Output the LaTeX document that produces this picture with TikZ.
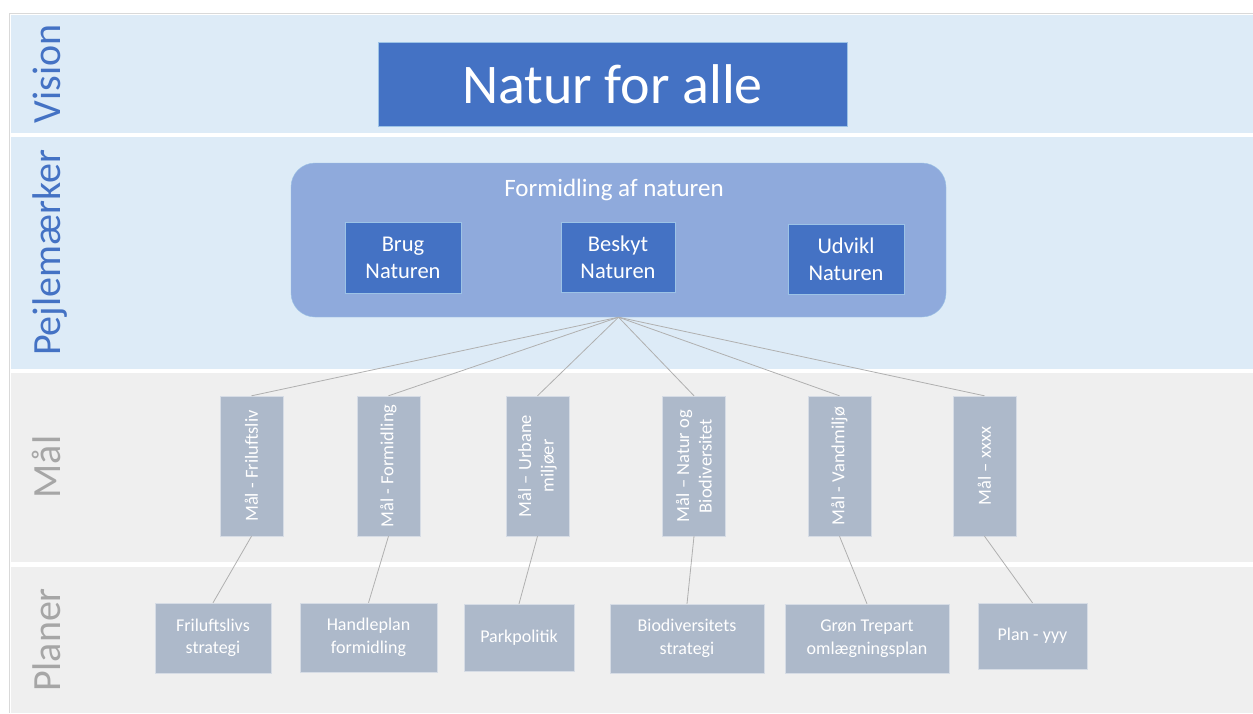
\documentclass[tikz,border=0pt]{standalone}
\usepackage{fontspec}
\setmainfont{Carlito}
\usepackage{tikz}
\usetikzlibrary{positioning}
\definecolor{bandblue}{HTML}{DDEBF7}
\definecolor{bandgray}{HTML}{EFEFEF}
\definecolor{darkblue}{HTML}{4472C4}
\definecolor{midblue}{HTML}{8FAADC}
\definecolor{lineblue}{HTML}{9DC3E6}
\definecolor{maalfill}{HTML}{ADB9CA}
\definecolor{maalline}{HTML}{D6DCE5}
\definecolor{labelgray}{HTML}{A6A6A6}
\definecolor{connect}{HTML}{B0B0B0}
\tikzset{lane/.style = {rotate = 90, anchor = base, font = \fontsize{40}{48}\selectfont}}
\tikzset{bluebox/.style = {fill = darkblue, draw = lineblue, text = white, inner sep = 0,
                           align = center, font = \fontsize{22.5}{27}\selectfont}}
\tikzset{maal/.style = {fill = maalfill, draw = maalline, text = white, inner sep = 2,
                        rotate = 90, minimum width = 140, minimum height = 63,
                        align = center, font = \fontsize{18.5}{22.5}\selectfont}}
\tikzset{plan/.style = {fill = maalfill, draw = maalline, text = white, inner sep = 2,
                        align = center, font = \fontsize{18}{22.5}\selectfont}}
\tikzset{conn/.style = {draw = connect, line width = 0.8}}

\begin{document}
\begin{tikzpicture}[x=1pt, y=-1pt]
    \useasboundingbox (0, 0) rectangle (1253, 713);
    \fill [white] (0, 0) rectangle (1253, 713);
    \draw [gray!30, line width = 1] (9, 713) -- (9, 13) -- (1253, 13);
    \fill [bandblue] (11, 15) rectangle (1253, 133);
    \fill [bandblue] (11, 137) rectangle (1253, 369);
    \fill [bandgray] (11, 373) rectangle (1253, 562);
    \fill [bandgray] (11, 567) rectangle (1253, 713);
    \node [lane, text = darkblue] (lvision) at (60, 74) {Vision};
    \node [lane, text = darkblue] (lpejl) at (60, 253) {Pejlemærker};
    \node [lane, text = labelgray] (lmaal) at (60, 467) {Mål};
    \node [lane, text = labelgray] (lplan) at (60, 640) {Planer};

    \node [bluebox, minimum width = 469, minimum height = 84,
           font = \fontsize{56}{60}\selectfont] (vision) at (612.5, 84) {Natur for alle};

    \node [fill = midblue, draw = lineblue, rounded corners = 24,
           minimum width = 655, minimum height = 154] (pejl) at (618.5, 240) {};
    \node [text = white, font = \fontsize{25}{30}\selectfont] (formidl) at (614, 190) {Formidling af naturen};
    \node [bluebox, minimum width = 116, minimum height = 71] (brug) at (403, 257.5) {Brug\\Naturen};
    \node [bluebox, minimum width = 114, minimum height = 70] (beskyt) at (618, 257) {Beskyt\\Naturen};
    \node [bluebox, minimum width = 116, minimum height = 70] (udvikl) at (846, 259) {Udvikl\\Naturen};

    \node [maal] (m1) at (251.5, 466) {Mål - Friluftsliv};
    \node [maal] (m2) at (388.5, 466) {Mål - Formidling};
    \node [maal] (m3) at (537.5, 466) {Mål -- Urbane\\miljøer};
    \node [maal] (m4) at (694, 466) {Mål -- Natur og\\Biodiversitet};
    \node [maal] (m5) at (839.5, 466) {Mål - Vandmiljø};
    \node [maal] (m6) at (984.5, 466) {Mål -- xxxx};

    \node [plan, minimum width = 116, minimum height = 70] (p1) at (213, 638) {Friluftslivs\\strategi};
    \node [plan, minimum width = 137, minimum height = 69] (p2) at (368.5, 637.5) {Handleplan\\formidling};
    \node [plan, minimum width = 110, minimum height = 67] (p3) at (519, 637.5) {Parkpolitik};
    \node [plan, minimum width = 154, minimum height = 69] (p4) at (687, 638.5) {Biodiversitets\\strategi};
    \node [plan, minimum width = 164, minimum height = 69] (p5) at (867, 638.5) {Grøn Trepart\\omlægningsplan};
    \node [plan, minimum width = 109, minimum height = 66] (p6) at (1032.5, 636) {Plan - yyy};

    \draw [conn] (pejl.south) -- (m1.east);
    \draw [conn] (pejl.south) -- (m2.east);
    \draw [conn] (pejl.south) -- (m3.east);
    \draw [conn] (pejl.south) -- (m4.east);
    \draw [conn] (pejl.south) -- (m5.east);
    \draw [conn] (pejl.south) -- (m6.east);
    \draw [conn] (m1.west) -- (p1.north);
    \draw [conn] (m2.west) -- (p2.north);
    \draw [conn] (m3.west) -- (p3.north);
    \draw [conn] (m4.west) -- (p4.north);
    \draw [conn] (m5.west) -- (p5.north);
    \draw [conn] (m6.west) -- (p6.north);
\end{tikzpicture}
\end{document}
